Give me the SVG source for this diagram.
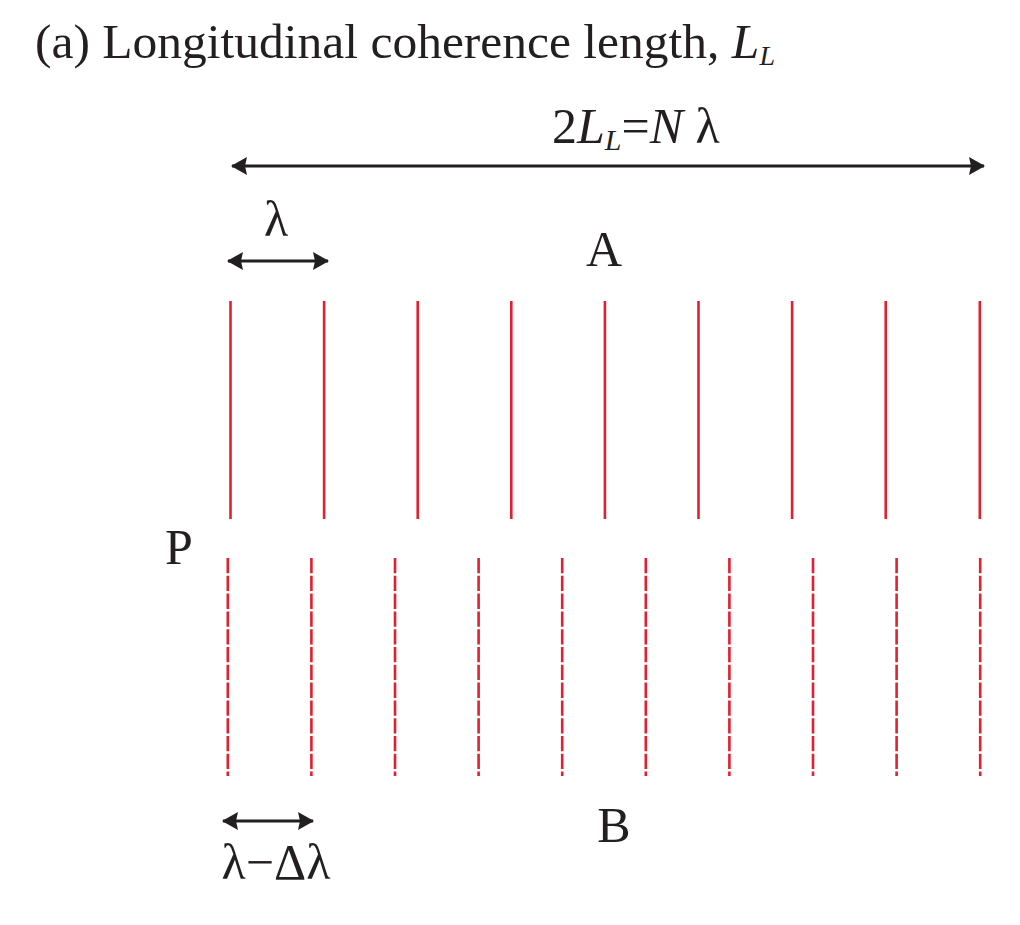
<svg xmlns="http://www.w3.org/2000/svg" width="1020" height="925" viewBox="0 0 1020 925">
<style>
text{font-family:"Liberation Serif","Times New Roman",serif;fill:#231f20}
.lbl{font-size:50px}
.it{font-style:italic}
.solid{stroke:#e3202f;stroke-width:2.6;fill:none}
.dash{stroke:#e3202f;stroke-width:2.6;fill:none;stroke-dasharray:15.3 2.5}
.arr{stroke:#231f20;stroke-width:2.8;fill:none;marker-start:url(#ah);marker-end:url(#ah)}
</style>
<defs>
<marker id="ah" viewBox="0 0 16 18" refX="15" refY="9" markerWidth="16" markerHeight="18" markerUnits="userSpaceOnUse" orient="auto-start-reverse">
<path d="M0,0 L16,9 L0,18 L2,9 Z" fill="#231f20"/>
</marker>
</defs>
<g id="title"><text x="35" y="58" font-size="49.5">(a) Longitudinal coherence length, <tspan class="it">L</tspan><tspan class="it" font-size="28" dy="7">L</tspan></text></g>
<g id="connectors">
<line class="arr" x1="232" y1="166" x2="984" y2="166"/>
<line class="arr" x1="228" y1="261" x2="328" y2="261"/>
<line class="arr" x1="223" y1="821" x2="313" y2="821"/>
</g>
<g id="labelN"><text class="lbl" x="552" y="143">2<tspan class="it">L</tspan><tspan class="it" font-size="30" dy="7">L</tspan><tspan dy="-7">=</tspan><tspan class="it">N</tspan> λ</text></g>
<g id="labelLambda"><text class="lbl" x="276" y="236" text-anchor="middle">λ</text></g>
<g id="labelA"><text class="lbl" x="604" y="266" text-anchor="middle">A</text></g>
<g id="labelP"><text class="lbl" x="165" y="564">P</text></g>
<g id="labelB"><text class="lbl" x="614" y="842" text-anchor="middle">B</text></g>
<g id="labelDL"><text class="lbl" x="276" y="879" text-anchor="middle">λ−Δλ</text></g>
<g id="waveA">
<line class="solid" x1="230.5" y1="301" x2="230.5" y2="519"/>
<line class="solid" x1="324.1" y1="301" x2="324.1" y2="519"/>
<line class="solid" x1="417.7" y1="301" x2="417.7" y2="519"/>
<line class="solid" x1="511.3" y1="301" x2="511.3" y2="519"/>
<line class="solid" x1="604.9" y1="301" x2="604.9" y2="519"/>
<line class="solid" x1="698.5" y1="301" x2="698.5" y2="519"/>
<line class="solid" x1="792.1" y1="301" x2="792.1" y2="519"/>
<line class="solid" x1="885.7" y1="301" x2="885.7" y2="519"/>
<line class="solid" x1="979.8" y1="301" x2="979.8" y2="519"/>
</g>
<g id="waveB">
<line class="dash" x1="227.8" y1="558" x2="227.8" y2="776"/>
<line class="dash" x1="311.4" y1="558" x2="311.4" y2="776"/>
<line class="dash" x1="395.0" y1="558" x2="395.0" y2="776"/>
<line class="dash" x1="478.6" y1="558" x2="478.6" y2="776"/>
<line class="dash" x1="562.2" y1="558" x2="562.2" y2="776"/>
<line class="dash" x1="645.8" y1="558" x2="645.8" y2="776"/>
<line class="dash" x1="729.4" y1="558" x2="729.4" y2="776"/>
<line class="dash" x1="813.0" y1="558" x2="813.0" y2="776"/>
<line class="dash" x1="896.6" y1="558" x2="896.6" y2="776"/>
<line class="dash" x1="980.2" y1="558" x2="980.2" y2="776"/>
</g>
</svg>
